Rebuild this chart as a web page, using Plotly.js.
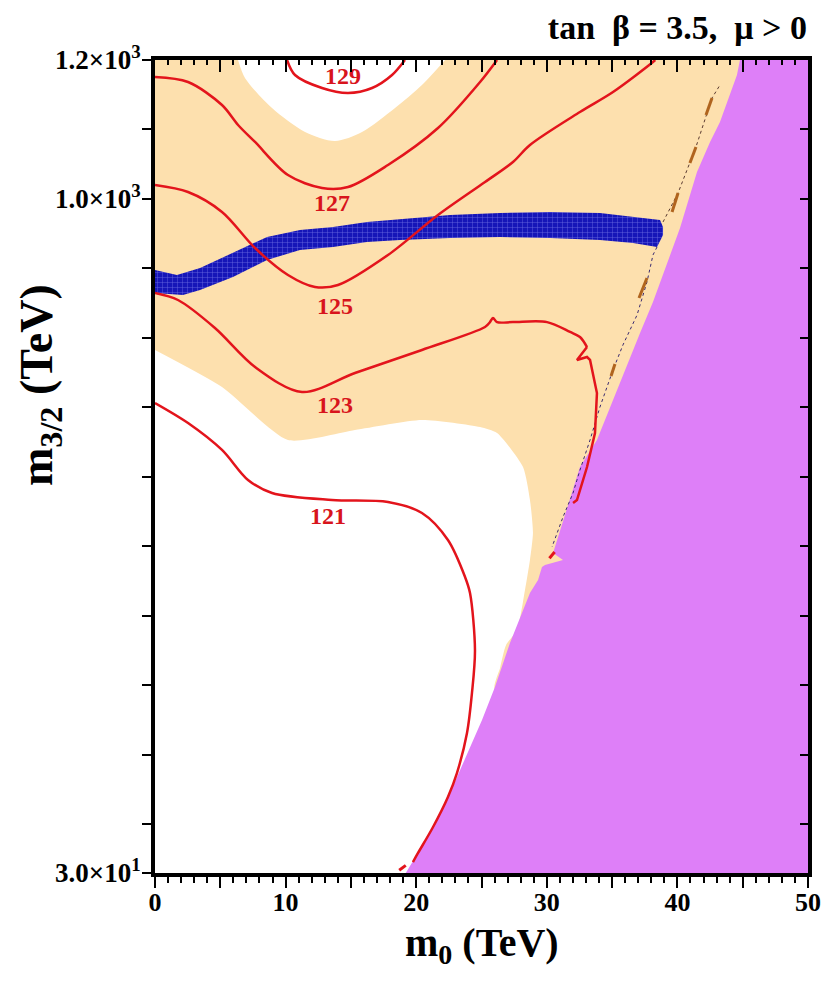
<!DOCTYPE html>
<html>
<head>
<meta charset="utf-8">
<script src="https://cdn.plot.ly/plotly-3.0.1.min.js"></script>
<style>html,body{margin:0;padding:0;background:#fff;}#chart{width:823px;height:981px;}</style>
</head>
<body>
<div id="chart"></div>
<script>
// ---------- axis ticks ----------
const xTickVals = [0, 5, 10, 15, 20, 25, 30, 35, 40, 45, 50];
const xTickText = ['0', '', '10', '', '20', '', '30', '', '40', '', '50'];
const yTickVals = [30, 100, 200, 300, 400, 500, 600, 700, 800, 900, 1000, 1100, 1200];
const yTickText = ['3.0×10<sup>1</sup>', '', '', '', '', '', '', '', '', '', '1.0×10<sup>3</sup>', '', '1.2×10<sup>3</sup>'];
const yRightTicks = [100, 200, 300, 400, 500, 600, 700, 800, 900, 1000, 1100, 1200];

// ---------- regions (m0 in TeV, m3/2 in TeV) ----------
const tanX = [0, 50, 50, 26.03, 26.42, 26.88, 27.72, 28.33, 28.71, 28.94, 28.71, 28.18, 26.19, 24.89, 20.44, 15.31, 10.18, 5.13, 0];
const tanY = [1200, 1200, 293.4, 293.4, 325.0, 358.1, 379.7, 437.3, 480.4, 519.3, 566.8, 614.3, 663.2, 671.8, 681.9, 667.5, 653.1, 729.4, 782.7];

const bowlX = [6.36, 6.89, 8.96, 11.49, 13.78, 15.85, 18.38, 20.44, 22.21];
const bowlY = [1200, 1174.1, 1130.9, 1096.4, 1083.4, 1096.4, 1130.9, 1164.0, 1200];

const purpleX = [19.2, 21.06, 22.59, 25.04, 26.03, 27.18, 28.71, 29.33, 29.63, 29.86, 31.24, 30.48, 32.54, 33.84, 37.14, 38.13, 40.20, 41.50, 42.50, 43.26, 44.56, 44.79, 50, 50];
const purpleY = [30, 87.6, 145.1, 250.2, 297.7, 361.0, 432.9, 451.7, 470.4, 473.3, 480.4, 490.5, 614.3, 653.1, 807.1, 851.7, 958.2, 1038.8, 1082.0, 1110.8, 1178.4, 1200, 1200, 30];

const bandX = [0, 1.68, 3.45, 5.97, 8.58, 11.10, 13.63, 16.23, 19.53, 22.59, 26.42, 30.25, 34.07, 36.60, 38.67, 38.90,
               38.90, 38.44, 36.60, 34.07, 30.25, 26.42, 22.59, 18.76, 16.23, 13.63, 11.10, 8.58, 5.97, 3.45, 2.14, 0];
const bandY = [897.8, 890.6, 900.7, 922.3, 945.3, 955.4, 959.7, 966.9, 972.6, 976.9, 979.8, 981.3, 979.8, 974.1, 969.7, 959.7,
               948.2, 930.9, 936.6, 941.0, 943.8, 945.3, 943.8, 941.0, 938.1, 930.9, 926.6, 912.2, 887.7, 869.0, 861.8, 864.7];

const edgeX = [38.44, 38.13, 37.67, 36.91, 35.83, 35.07, 34.07, 33.31, 32.54, 32.01, 31.24, 30.40];
const edgeY = [930.9, 919.4, 880.5, 833.0, 789.9, 753.9, 700.6, 653.1, 609.9, 576.9, 542.3, 499.2];
const dotX = [38.90, 40.05, 41.42, 42.65, 43.26];
const dotY = [966.9, 1008.6, 1074.8, 1145.3, 1164.0];
const brownX = [42.65, 42.19, null, 41.42, 40.96, null, 40.05, 39.59, null, 37.67, 37.06, null, 35.22, 34.92];
const brownY = [1145.3, 1120.8, null, 1074.8, 1051.8, null, 1008.6, 981.3, null, 886.3, 857.5, null, 762.5, 745.2];

// ---------- Higgs mass contours ----------
const c129X = [10.11, 10.72, 12.79, 14.78, 16.62, 18.15, 19.14];
const c129Y = [1200, 1178.4, 1159.7, 1152.5, 1159.7, 1178.4, 1200];
const c127X = [0, 2.53, 5.13, 6.36, 7.66, 10.18, 12.79, 14.78, 17.84, 21.67, 24.89, 26.19];
const c127Y = [1175.5, 1168.3, 1135.2, 1106.5, 1082.0, 1034.5, 1015.8, 1017.2, 1048.9, 1102.1, 1168.3, 1200];
const c125X = [0, 2.53, 5.13, 7.66, 10.18, 12.25, 14.01, 17.84, 21.67, 25.27, 27.41, 28.71, 32.54, 35.07, 38.13, 38.3];
const c125Y = [1020.1, 1010.0, 981.3, 929.4, 890.6, 873.3, 876.2, 919.4, 976.9, 1024.4, 1053.2, 1077.7, 1125.2, 1153.9, 1197.1, 1200];
const c123X = [0, 1.76, 4.59, 7.66, 11.26, 15.31, 20.44, 25.27, 25.65, 25.88, 26.19, 27.41, 30.02, 31.78, 32.54, 33.08];
const c123Y = [864.7, 854.6, 814.3, 758.2, 722.2, 749.6, 782.7, 815.8, 822.8, 828.7, 822.8, 822.8, 822.8, 808.6, 801.4, 786.9];
const c123bX = [33.08, 32.31, 33.08, 33.31, 33.84, 33.69, 33.08, 32.31, 32.01];
const c123bY = [786.9, 768.3, 772.6, 768.3, 720.8, 663.2, 614.3, 566.8, 562.5];
const c121X = [0, 2.53, 5.13, 7.12, 8.96, 13.55, 17.84, 20.44, 22.43, 23.74, 24.12, 24.50, 24.27, 23.89, 23.12, 22.43, 21.29, 20.14, 19.75];
const c121Y = [706.4, 677.6, 638.8, 595.6, 576.9, 566.8, 563.9, 548.1, 509.2, 456.0, 432.9, 350.9, 289.1, 231.5, 173.9, 139.4, 96.2, 58.8, 45.8];
const redBitX = [30.2, 30.6, null, 18.7, 19.2];
const redBitY = [483, 492, null, 34, 41];

const labelX = [14.40, 13.55, 13.78, 13.78, 13.25];
const labelY = [1174.1, 991.3, 843.1, 700.6, 540.9];
const labelText = ['129', '127', '125', '123', '121'];

// ---------- styles ----------
const FONT = '"Liberation Serif", "Times New Roman", Times, serif';
const TAN = '#fde0ae';
const PURPLE = '#de7ff8';
const BLUE = '#1616b8';
const RED = '#e3141c';

function fillTrace(x, y, color, extra) {
  return Object.assign({x: x, y: y, type: 'scatter', mode: 'lines', fill: 'toself', fillcolor: color,
    line: {width: 0, color: color}, hoverinfo: 'skip', showlegend: false}, extra || {});
}
function lineTrace(x, y, color, width, dash, shape) {
  return {x: x, y: y, type: 'scatter', mode: 'lines',
    line: {color: color, width: width, dash: dash || 'solid', shape: shape || 'linear', smoothing: 0.9},
    hoverinfo: 'skip', showlegend: false, connectgaps: false};
}

const data = [
  fillTrace(tanX, tanY, TAN, {line: {width: 0, color: TAN, shape: 'spline', smoothing: 0.6}}),
  fillTrace(bowlX, bowlY, '#ffffff', {line: {width: 0, color: '#ffffff', shape: 'spline', smoothing: 0.8}}),
  fillTrace(purpleX, purpleY, PURPLE),
  fillTrace(bandX, bandY, BLUE, {fillpattern: {shape: '+', bgcolor: BLUE, fgcolor: '#7070e4', size: 5, solidity: 0.15}}),
  lineTrace(edgeX, edgeY, '#3a2a70', 1, 'dot'),
  lineTrace(dotX, dotY, '#5a3a30', 1, 'dot'),
  lineTrace(brownX, brownY, '#b0641e', 3),
  lineTrace(c129X, c129Y, RED, 2.5, 'solid', 'spline'),
  lineTrace(c127X, c127Y, RED, 2.5, 'solid', 'spline'),
  lineTrace(c125X, c125Y, RED, 2.5, 'solid', 'spline'),
  lineTrace(c123X, c123Y, RED, 2.5, 'solid', 'spline'),
  lineTrace(c123bX, c123bY, RED, 2.5, 'solid', 'linear'),
  lineTrace(c121X, c121Y, RED, 2.5, 'solid', 'spline'),
  lineTrace(redBitX, redBitY, RED, 3),
  {x: labelX, y: labelY, text: labelText, type: 'scatter', mode: 'text', hoverinfo: 'skip', showlegend: false,
   textfont: {family: FONT, size: 24, color: '#d8141c', weight: 'bold'}},
  {x: [], y: [], xaxis: 'x2', yaxis: 'y2', type: 'scatter', mode: 'markers', hoverinfo: 'skip', showlegend: false}
];

const layout = {
  width: 823, height: 981,
  margin: {l: 155, r: 15, t: 60, b: 108, pad: 0},
  paper_bgcolor: '#ffffff', plot_bgcolor: '#ffffff',
  showlegend: false,
  font: {family: FONT, color: '#000'},
  title: {text: 'tan\u00a0\u00a0β = 3.5,\u00a0\u00a0μ > 0', x: 807 / 823, xanchor: 'right', xref: 'container',
          y: 1 - 27 / 981, yanchor: 'middle', yref: 'container',
          font: {family: FONT, size: 34, weight: 'bold', color: '#000'}},
  xaxis: {range: [0, 50], tickmode: 'array', tickvals: xTickVals, ticktext: xTickText,
          ticks: 'outside', ticklen: 11, tickwidth: 2, tickcolor: '#000',
          showline: true, linewidth: 4, linecolor: '#000', mirror: true,
          showgrid: false, zeroline: false, ticklabelstandoff: -8,
          tickfont: {family: FONT, size: 26, weight: 'bold', color: '#000'},
          minor: {tickmode: 'linear', tick0: 0, dtick: 1, ticks: 'outside', ticklen: 6, tickwidth: 2, tickcolor: '#000', showgrid: false}},
  yaxis: {range: [30, 1200], tickmode: 'array', tickvals: yTickVals, ticktext: yTickText,
          ticks: 'outside', ticklen: 9, tickwidth: 2, tickcolor: '#000',
          showline: true, linewidth: 4, linecolor: '#000', mirror: true,
          showgrid: false, zeroline: false, ticklabelstandoff: -4,
          tickfont: {family: FONT, size: 27, weight: 'bold', color: '#000'}},
  xaxis2: {overlaying: 'x', side: 'top', anchor: 'y2', range: [0, 50], tickmode: 'linear', tick0: 0, dtick: 5,
           ticks: 'inside', ticklen: 12, tickwidth: 2, tickcolor: '#000', showticklabels: false,
           showline: false, showgrid: false, zeroline: false,
           minor: {tickmode: 'linear', tick0: 0, dtick: 1, ticks: 'inside', ticklen: 5, tickwidth: 2, tickcolor: '#000', showgrid: false}},
  yaxis2: {overlaying: 'y', side: 'right', anchor: 'x2', range: [30, 1200], tickmode: 'array', tickvals: yRightTicks,
           ticks: 'inside', ticklen: 8, tickwidth: 2, tickcolor: '#000', showticklabels: false,
           showline: false, showgrid: false, zeroline: false},
  annotations: [
    {text: 'm<sub>0</sub> (TeV)', xref: 'paper', yref: 'paper', x: 0.5, y: (873 - 945) / 813,
     xanchor: 'center', yanchor: 'middle', showarrow: false,
     font: {family: FONT, size: 40, weight: 'bold', color: '#000'}},
    {text: 'm<sub>3/2</sub> (TeV)', xref: 'paper', yref: 'paper', x: (40 - 155) / 653, y: (873 - 385) / 813,
     xanchor: 'center', yanchor: 'middle', showarrow: false, textangle: -90,
     font: {family: FONT, size: 46, weight: 'bold', color: '#000'}}
  ]
};

Plotly.newPlot('chart', data, layout, {staticPlot: true, displayModeBar: false});
</script>
</body>
</html>
